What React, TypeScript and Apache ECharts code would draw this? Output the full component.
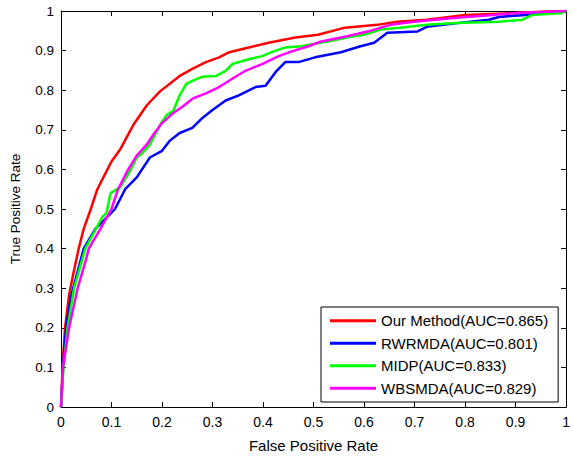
import React, { useEffect, useRef } from "react";
import * as echarts from "echarts";

const seriesNames = [
  "Our Method(AUC=0.865)",
  "RWRMDA(AUC=0.801)",
  "MIDP(AUC=0.833)",
  "WBSMDA(AUC=0.829)",
];
const seriesColors = ["#ff0000", "#0000ff", "#00ff00", "#ff00ff"];

const ourFpr = [0, 0.003, 0.008, 0.016, 0.025, 0.035, 0.045, 0.059, 0.072, 0.092, 0.1, 0.117, 0.143, 0.17, 0.196, 0.235, 0.26, 0.287, 0.313, 0.333, 0.372, 0.411, 0.464, 0.509, 0.562, 0.626, 0.665, 0.724, 0.8, 0.9, 0.985, 1];
const ourTpr = [0, 0.1, 0.2, 0.283, 0.34, 0.4, 0.45, 0.5, 0.55, 0.6, 0.62, 0.65, 0.712, 0.762, 0.797, 0.836, 0.854, 0.871, 0.883, 0.896, 0.908, 0.92, 0.933, 0.94, 0.958, 0.965, 0.973, 0.978, 0.99, 0.995, 1, 1];

const rwrFpr = [0, 0.004, 0.01, 0.02, 0.045, 0.068, 0.084, 0.107, 0.127, 0.15, 0.176, 0.2, 0.215, 0.235, 0.26, 0.28, 0.3, 0.326, 0.352, 0.385, 0.405, 0.425, 0.444, 0.47, 0.503, 0.554, 0.593, 0.62, 0.646, 0.705, 0.724, 0.789, 0.847, 0.867, 0.92, 0.953, 1];
const rwrTpr = [0, 0.1, 0.2, 0.28, 0.4, 0.45, 0.47, 0.5, 0.55, 0.58, 0.63, 0.647, 0.672, 0.692, 0.705, 0.73, 0.75, 0.774, 0.787, 0.808, 0.811, 0.846, 0.871, 0.871, 0.883, 0.896, 0.911, 0.92, 0.945, 0.948, 0.96, 0.97, 0.978, 0.985, 0.99, 0.995, 1];

const midpFpr = [0, 0.005, 0.013, 0.026, 0.048, 0.065, 0.082, 0.09, 0.098, 0.117, 0.134, 0.15, 0.16, 0.176, 0.196, 0.209, 0.222, 0.235, 0.248, 0.261, 0.28, 0.307, 0.326, 0.339, 0.372, 0.398, 0.417, 0.444, 0.476, 0.528, 0.573, 0.6, 0.632, 0.671, 0.724, 0.783, 0.867, 0.914, 0.933, 0.992, 1];
const midpTpr = [0, 0.1, 0.2, 0.3, 0.4, 0.44, 0.48, 0.49, 0.54, 0.555, 0.59, 0.63, 0.64, 0.663, 0.712, 0.737, 0.747, 0.787, 0.816, 0.824, 0.834, 0.836, 0.849, 0.866, 0.878, 0.886, 0.896, 0.908, 0.911, 0.923, 0.935, 0.94, 0.953, 0.958, 0.965, 0.97, 0.973, 0.978, 0.99, 0.995, 1];

const wbsFpr = [0, 0.004, 0.016, 0.033, 0.049, 0.055, 0.078, 0.1, 0.113, 0.133, 0.15, 0.17, 0.183, 0.2, 0.222, 0.241, 0.261, 0.287, 0.313, 0.339, 0.365, 0.398, 0.431, 0.457, 0.49, 0.515, 0.562, 0.607, 0.652, 0.699, 0.783, 0.855, 0.9, 1];
const wbsTpr = [0, 0.1, 0.2, 0.3, 0.37, 0.4, 0.45, 0.5, 0.55, 0.6, 0.635, 0.663, 0.688, 0.717, 0.742, 0.759, 0.779, 0.792, 0.808, 0.829, 0.849, 0.866, 0.886, 0.898, 0.911, 0.923, 0.935, 0.948, 0.965, 0.973, 0.983, 0.99, 0.995, 1];

const fprs = [ourFpr, rwrFpr, midpFpr, wbsFpr];
const tprs = [ourTpr, rwrTpr, midpTpr, wbsTpr];

const font = "Liberation Sans, Arial, Helvetica, sans-serif";

export default function App() {
  const ref = useRef<HTMLDivElement>(null);
  useEffect(() => {
    if (!ref.current) return;
    const chart = echarts.init(ref.current, undefined, { renderer: "svg" });
    const axisCommon = {
      type: "value" as const,
      min: 0,
      max: 1,
      interval: 0.1,
      axisLine: { show: true, onZero: false, lineStyle: { color: "#000", width: 1 } },
      axisTick: { show: true, inside: true, length: 5, lineStyle: { color: "#000" } },
      splitLine: { show: false },
    };
    const labelFmt = (v: number) => (v === 0 ? "0" : v === 1 ? "1" : String(Math.round(v * 10) / 10));
    chart.setOption({
      animation: false,
      backgroundColor: "#fff",
      textStyle: { fontFamily: font },
      grid: { left: 60, top: 11, width: 511, height: 403, containLabel: false },
      xAxis: [
        {
          ...axisCommon,
          position: "bottom",
          name: "False Positive Rate",
          nameLocation: "middle",
          nameGap: 31,
          nameTextStyle: { fontSize: 15, color: "#000", fontFamily: font },
          axisLabel: { fontSize: 14, color: "#000", margin: 8, fontFamily: font, formatter: labelFmt },
        },
        {
          ...axisCommon,
          position: "top",
          axisLabel: { show: false },
        },
      ],
      yAxis: [
        {
          ...axisCommon,
          position: "left",
          name: "True Positive Rate",
          nameLocation: "middle",
          nameGap: 39,
          nameTextStyle: { fontSize: 13.5, color: "#000", fontFamily: font },
          axisLabel: { fontSize: 13.5, color: "#000", margin: 7, fontFamily: font, formatter: labelFmt },
        },
        {
          ...axisCommon,
          position: "right",
          axisLabel: { show: false },
        },
      ],
      legend: {
        orient: "vertical",
        left: 321,
        top: 307,
        padding: [6, 10, 6, 9],
        itemGap: 7,
        itemWidth: 46,
        itemHeight: 3,
        icon: "rect",
        borderColor: "#000",
        borderWidth: 1,
        backgroundColor: "#fff",
        textStyle: { fontSize: 15, color: "#000", fontFamily: font, lineHeight: 15.5 },
        data: seriesNames,
      },
      series: seriesNames.map((name, i) => ({
        name,
        type: "line",
        xAxisIndex: 0,
        yAxisIndex: 0,
        symbol: "none",
        smooth: false,
        color: seriesColors[i],
        lineStyle: { color: seriesColors[i], width: 2.5 },
        data: fprs[i].map((x, j) => [x, tprs[i][j]]),
      })),
    });
    return () => chart.dispose();
  }, []);
  return (
    <div
      ref={ref}
      style={{ position: "fixed", left: 0, top: 0, width: 573, height: 458 }}
    />
  );
}
